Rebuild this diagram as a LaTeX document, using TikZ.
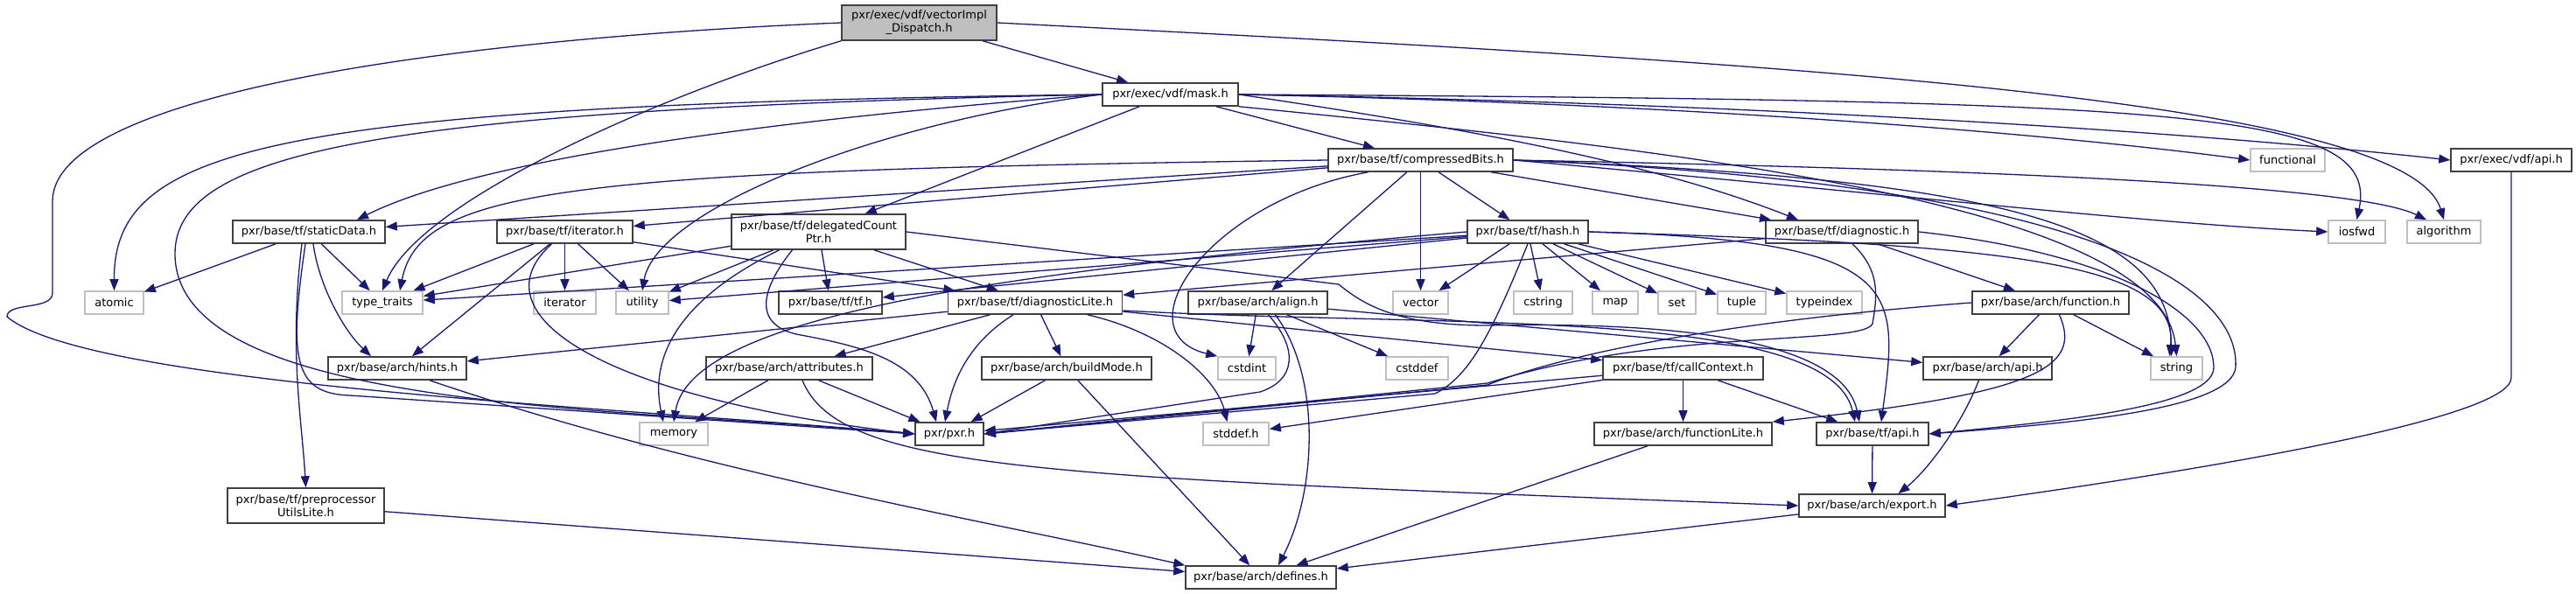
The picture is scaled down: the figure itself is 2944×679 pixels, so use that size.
\documentclass[tikz,border=0pt]{standalone}
\usepackage{fontspec}
\setmainfont{DejaVu Sans}
\usepackage{tikz}
\usetikzlibrary{arrows.meta,positioning}
\definecolor{incblue}{HTML}{191970}
\definecolor{boxline}{HTML}{404040}
\definecolor{sysline}{HTML}{BFBFBF}
\definecolor{rootfill}{HTML}{BFBFBF}
\newcommand{\dxfont}{\fontsize{13}{15}\selectfont}
\tikzset{
  incgraph/.style={font=\dxfont, x=1pt, y=-1pt},
  % a header of the project
  hfile/.style={rectangle, draw=boxline, fill=white, line width=1.6pt,
                inner sep=0pt, minimum height=26pt, align=center},
  % a system header
  xfile/.style={hfile, draw=sysline},
  % the file the graph is drawn for
  rootfile/.style={fill=rootfill},
  % one #include
  incl/.style={draw=incblue, line width=1.3pt,
               -{Triangle[length=13pt,width=10pt]}},
}
\newcommand{\hf}[6][]{\node[hfile, minimum width=#5pt, #1] (#2) at (#3,#4) {#6};}
\newcommand{\xf}[5]{\node[xfile, minimum width=#4pt] (#1) at (#2,#3) {#5};}
\newcommand{\dep}[2]{\draw[incl] (#1) -- (#2);}

\begin{document}
\begin{tikzpicture}[incgraph]
  % ---------------------------------------------------------------------------
  % Include graph of vectorImpl_Dispatch.h, one rank per row.
  % Coordinates are in pixels of the 2944 x 679 image, y going down.
  % ---------------------------------------------------------------------------
  \useasboundingbox (0,0) rectangle (2944,679);

  \hf[rootfile, minimum height=40pt]{vec}{1050.5}{26}{177}{pxr/exec/vdf/vectorImpl\\\_Dispatch.h}
  \hf{mask}{1337.5}{108}{155}{pxr/exec/vdf/mask.h}

  \hf{cbits}{1623.5}{183}{211}{pxr/base/tf/compressedBits.h}
  \xf{functional}{2614.5}{183}{85}{functional}
  \hf{vdfapi}{2870}{183}{138}{pxr/exec/vdf/api.h}

  \hf{staticData}{353}{265}{174}{pxr/base/tf/staticData.h}
  \hf{iterh}{645.5}{265}{155}{pxr/base/tf/iterator.h}
  \hf[minimum height=40pt]{dcp}{935.5}{265}{199}{pxr/base/tf/delegatedCount\\Ptr.h}
  \hf{hash}{1746}{265}{138}{pxr/base/tf/hash.h}
  \hf{diag}{2105}{265}{174}{pxr/base/tf/diagnostic.h}
  \xf{iosfwd}{2693.5}{265}{65}{iosfwd}
  \xf{algorithm}{2793}{265}{84}{algorithm}

  \xf{atomic}{130.5}{346}{67}{atomic}
  \xf{typetraits}{437}{346}{92}{type\_traits}
  \xf{iterator}{645.5}{346}{71}{iterator}
  \xf{utility}{734}{346}{60}{utility}
  \hf{tfh}{949}{346}{118}{pxr/base/tf/tf.h}
  \hf{diagLite}{1183}{346}{199}{pxr/base/tf/diagnosticLite.h}
  \hf{align}{1437.5}{346}{159}{pxr/base/arch/align.h}
  \xf{vector}{1623.5}{346}{63}{vector}
  \xf{cstring}{1763.5}{346}{67}{cstring}
  \xf{map}{1846}{346}{52}{map}
  \xf{set}{1916.5}{346}{43}{set}
  \xf{tuple}{1990.5}{346}{55}{tuple}
  \xf{typeindex}{2085}{346}{86}{typeindex}
  \hf{function}{2343.5}{346}{179}{pxr/base/arch/function.h}

  \hf{hints}{454}{421}{158}{pxr/base/arch/hints.h}
  \hf{attributes}{902}{421}{190}{pxr/base/arch/attributes.h}
  \hf{buildMode}{1219}{421}{194}{pxr/base/arch/buildMode.h}
  \xf{cstdint}{1425}{421}{66}{cstdint}
  \xf{cstddef}{1619.5}{421}{71}{cstddef}
  \hf{callContext}{1923.5}{421}{183}{pxr/base/tf/callContext.h}
  \hf{archapi}{2271.5}{421}{147}{pxr/base/arch/api.h}
  \xf{string}{2487.5}{421}{59}{string}

  \xf{memory}{770}{496}{78}{memory}
  \hf{pxr}{1085}{496}{78}{pxr/pxr.h}
  \xf{stddef}{1412.5}{496}{75}{stddef.h}
  \hf{funcLite}{1923.5}{496}{203}{pxr/base/arch/functionLite.h}
  \hf{tfapi}{2140}{496}{128}{pxr/base/tf/api.h}

  \hf[minimum height=40pt]{preproc}{349.5}{578}{179}{pxr/base/tf/preprocessor\\UtilsLite.h}
  \hf{export}{2139.5}{578}{167}{pxr/base/arch/export.h}
  \hf{defines}{1441}{660}{172}{pxr/base/arch/defines.h}

  % vectorImpl_Dispatch.h
  \dep{vec}{mask}
  \draw[incl] (vec.west) .. controls (500,45) and (60,110) .. (60,230) -- (60,335)
    .. controls (60,355) and (8,345) .. (8,362) .. controls (100,440) and (700,465) .. (pxr.west);
  \draw[incl] (vec.south west) .. controls (750,110) and (480,230) .. (typetraits.north);
  \draw[incl] (vec.east) .. controls (2000,70) and (2750,110) .. (algorithm.north);

  % mask.h
  \dep{mask}{cbits}
  \dep{mask}{dcp}
  \draw[incl] (mask.east) .. controls (1700,150) and (1900,190) .. ([xshift=-50pt]diag.north);
  \draw[incl] (mask.east) .. controls (2000,118) and (2500,150) .. (vdfapi.west);
  \draw[incl] (mask.east) .. controls (2000,120) and (2400,160) .. (functional.west);
  \draw[incl] (mask.east) .. controls (2500,115) and (2720,125) .. (iosfwd.north);
  \draw[incl] (mask.south east) .. controls (1900,170) and (2470,230) .. (string.north);
  \draw[incl] (mask.west) .. controls (900,135) and (550,180) .. ([xshift=55pt]staticData.north);
  \draw[incl] (mask.west) .. controls (300,120) and (130,170) .. (atomic.north);
  \draw[incl] (mask.west) .. controls (450,125) and (200,170) .. (200,290)
    .. controls (200,470) and (700,465) .. (pxr.west);
  \draw[incl] (mask.west) .. controls (1000,140) and (750,240) .. (utility.north);

  % compressedBits.h
  \dep{cbits}{staticData}
  \dep{cbits}{iterh}
  \draw[incl] (cbits.west) .. controls (650,195) and (480,215) .. ([xshift=20pt]typetraits.north);
  \draw[incl] ([xshift=-60pt]cbits.south) .. controls (1380,230) and (1280,380) .. (cstdint.north west);
  \dep{cbits}{align}
  \dep{cbits}{vector}
  \dep{cbits}{hash}
  \dep{cbits}{diag}
  \draw[incl] (cbits.east) .. controls (2200,225) and (2450,255) .. (iosfwd.west);
  \draw[incl] (cbits.east) .. controls (2350,195) and (2700,215) .. ([xshift=-20pt]algorithm.north);
  \draw[incl] (cbits.east) .. controls (2300,205) and (2480,260) .. ([xshift=-6pt]string.north);
  \draw[incl] (cbits.east) .. controls (2400,210) and (2560,330) .. (2555,420)
    .. controls (2550,470) and (2350,485) .. (tfapi.east);

  % staticData.h
  \dep{staticData}{atomic}
  \dep{staticData}{typetraits}
  \draw[incl] ([xshift=5pt]staticData.south) .. controls (365,330) and (395,380) .. ([xshift=-30pt]hints.north);
  \draw[incl] ([xshift=-8pt]staticData.south) .. controls (330,400) and (345,480) .. (preproc.north);
  \draw[incl] ([xshift=-4pt]staticData.south) .. controls (330,410) and (335,450) .. (400,452) -- (pxr.west);

  % iterator.h
  \dep{iterh}{typetraits}
  \dep{iterh}{hints}
  \dep{iterh}{iterator}
  \dep{iterh}{utility}
  \dep{iterh}{diagLite}
  \draw[incl] ([xshift=-15pt]iterh.south) .. controls (540,360) and (690,455) .. (pxr.west);

  % delegatedCountPtr.h
  \dep{dcp}{typetraits}
  \dep{dcp}{utility}
  \dep{dcp}{tfh}
  \dep{dcp}{diagLite}
  \draw[incl] ([xshift=-45pt]dcp.south) .. controls (760,350) and (745,420) .. ([xshift=-12pt]memory.north);
  \draw[incl] ([xshift=-30pt]dcp.south) .. controls (870,330) and (860,370) .. (910,382)
    .. controls (980,395) and (1050,410) .. ([xshift=-15pt]pxr.north);
  \draw[incl] (dcp.east) -- (1530,325) .. controls (1560,350) and (1600,372) .. (1700,372)
    .. controls (2000,366) and (2110,410) .. ([xshift=-15pt]tfapi.north);

  % hash.h
  \dep{hash}{vector}
  \dep{hash}{cstring}
  \dep{hash}{map}
  \dep{hash}{set}
  \dep{hash}{tuple}
  \dep{hash}{typeindex}
  \dep{hash}{typetraits}
  \dep{hash}{utility}
  \dep{hash}{tfh}
  \draw[incl] (hash.west) .. controls (1150,310) and (790,360) .. (memory.north);
  \draw[incl] (hash.south) .. controls (1705,380) and (1680,430) .. (1640,450) -- (pxr.east);
  \draw[incl] (hash.east) .. controls (2300,280) and (2490,300) .. ([xshift=-8pt]string.north);
  \draw[incl] (hash.east) .. controls (2180,275) and (2170,330) .. ([xshift=10pt]tfapi.north);

  % diagnostic.h
  \dep{diag}{diagLite}
  \dep{diag}{function}
  \draw[incl] ([xshift=12pt]diag.south) .. controls (2150,310) and (2145,340) .. (2140,370)
    .. controls (2130,395) and (1900,375) .. (1700,438) -- (pxr.east);
  \draw[incl] (diag.east) .. controls (2420,290) and (2530,360) .. (2530,420)
    .. controls (2530,465) and (2350,482) .. (tfapi.east);

  % diagnosticLite.h
  \dep{diagLite}{hints}
  \dep{diagLite}{attributes}
  \dep{diagLite}{buildMode}
  \dep{diagLite}{callContext}
  \draw[incl] ([xshift=-25pt]diagLite.south) .. controls (1110,390) and (1090,430) .. ([xshift=-5pt]pxr.north);
  \draw[incl] ([xshift=60pt]diagLite.south) .. controls (1330,380) and (1390,430) .. ([xshift=-10pt]stddef.north);
  \draw[incl] ([yshift=-9pt]diagLite.east) .. controls (1650,375) and (2090,350) .. ([xshift=-20pt]tfapi.north);

  % function.h, callContext.h, align.h
  \dep{function}{archapi}
  \dep{function}{string}
  \draw[incl] ([xshift=10pt]function.south) .. controls (2380,420) and (2330,450) .. (funcLite.north east);
  \draw[incl] (function.west) .. controls (2000,365) and (1800,400) .. (1700,440) -- (pxr.east);
  \dep{callContext}{pxr}
  \dep{callContext}{stddef}
  \dep{callContext}{funcLite}
  \dep{callContext}{tfapi}
  \dep{align}{cstdint}
  \dep{align}{cstddef}
  \dep{align}{archapi}
  \draw[incl] ([xshift=12pt]align.south) .. controls (1485,400) and (1480,435) .. (1440,448) -- (pxr.east);
  \draw[incl] ([xshift=20pt]align.south) .. controls (1510,430) and (1505,560) .. ([xshift=20pt]defines.north);

  % the arch layer
  \dep{attributes}{memory}
  \dep{attributes}{pxr}
  \draw[incl] ([xshift=15pt]attributes.south) .. controls (960,540) and (1200,545) .. (export.west);
  \dep{buildMode}{pxr}
  \dep{buildMode}{defines}
  \draw[incl] ([xshift=37pt]hints.south) .. controls (800,540) and (1150,600) .. (defines.north west);
  \dep{preproc}{defines}
  \dep{funcLite}{defines}
  \draw[incl] ([xshift=-10pt]archapi.south) .. controls (2240,490) and (2200,540) .. ([xshift=30pt]export.north);
  \dep{tfapi}{export}
  \draw[incl] (vdfapi.south) -- ++(0,235) .. controls (2870,480) and (2500,540) .. (export.east);
  \dep{export}{defines}
\end{tikzpicture}
\end{document}
